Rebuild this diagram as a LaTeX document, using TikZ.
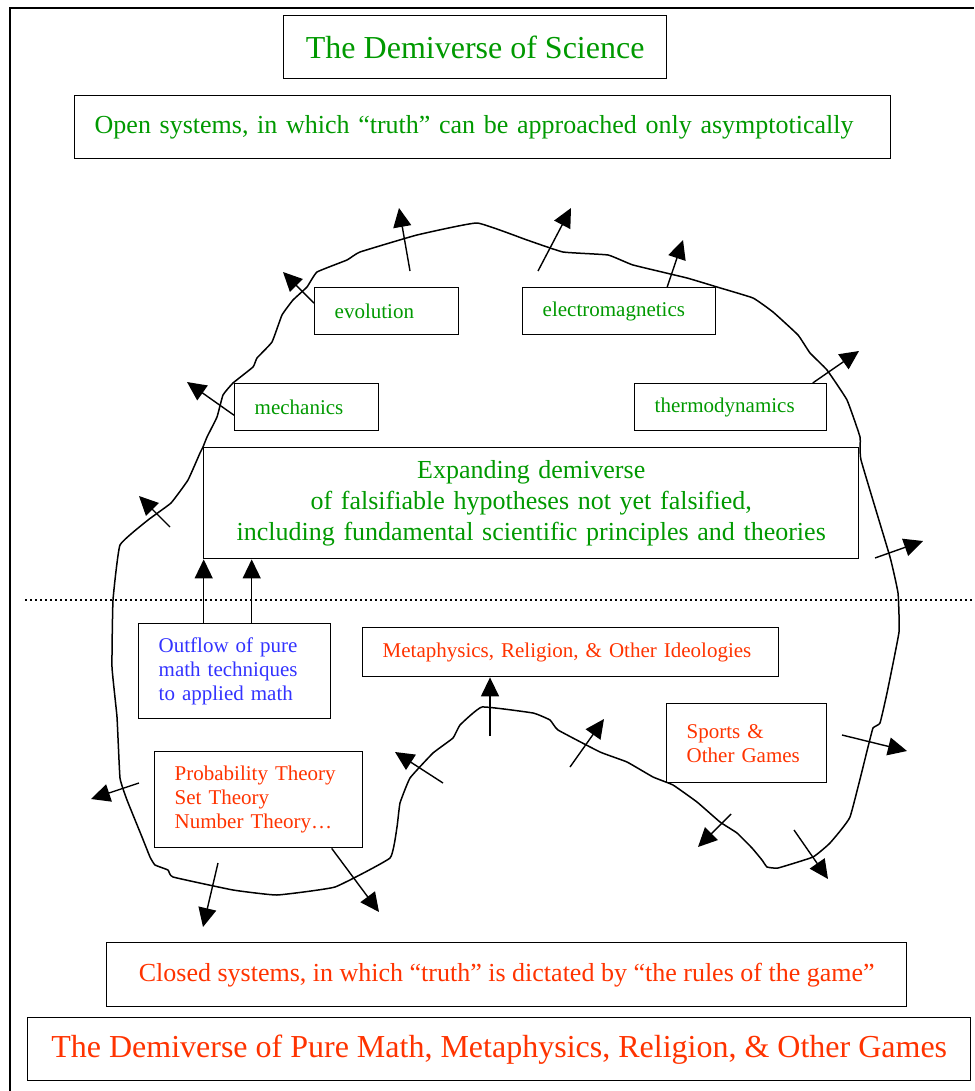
\documentclass[tikz,border=0pt]{standalone}
\usepackage{fontspec}
\setmainfont{Liberation Serif}
\usetikzlibrary{arrows.meta}
\definecolor{scigreen}{RGB}{0,153,0}
\definecolor{gamered}{RGB}{255,51,0}
\definecolor{mathblue}{RGB}{51,51,255}
\tikzset{box/.style={draw,line width=1.4pt,inner xsep=20pt,inner ysep=0pt,align=left,anchor=north west}}
\tikzset{sci/.style={text=scigreen}}
\tikzset{game/.style={text=gamered}}
\tikzset{purem/.style={text=mathblue}}
\tikzset{small/.style={font=\fontsize{21}{24}\selectfont}}
\tikzset{mid/.style={font=\fontsize{26}{31}\selectfont}}
\tikzset{big/.style={font=\fontsize{32}{38}\selectfont}}
\tikzset{edge/.style={-{Triangle[length=19pt,width=18pt]},line width=1.4pt}}
\tikzset{rim/.style={line width=1.5pt,line join=round}}

\begin{document}
\begin{tikzpicture}[x=1pt,y=-1pt]
\useasboundingbox (0,0) rectangle (974,1091);
\draw [line width=2.5pt] (10,1091) -- (10,8) -- (974,8);
\node [box,big,sci,minimum width=383,minimum height=63,align=center] (title) at (283,15) {The Demiverse of Science};
\node [box,mid,sci,text width=776,minimum height=63] (open) at (74,95) {Open systems, in which “truth” can be approached only asymptotically};
\node [box,small,sci,text width=104,minimum height=47] (evo) at (314,287) {evolution};
\node [box,small,sci,text width=153,minimum height=47] (em) at (522,287) {electromagnetics};
\node [box,small,sci,text width=104,minimum height=47] (mech) at (234,383) {mechanics};
\node [box,small,sci,text width=152,minimum height=47] (thermo) at (634,383) {thermodynamics};
\node [box,mid,sci,text width=615,minimum height=111,align=center] (expand) at (203,447) {Expanding demiverse\\of falsifiable hypotheses not yet falsified,\\including fundamental scientific principles and theories};
\node [box,small,purem,text width=152,minimum height=95] (outflow) at (138,623) {Outflow of pure\\math techniques\\to applied math};
\node [box,small,game,text width=376,minimum height=49] (meta) at (362,627) {Metaphysics, Religion, \& Other Ideologies};
\node [box,small,game,text width=168,minimum height=96] (prob) at (154,751) {Probability Theory\\Set Theory\\Number Theory…};
\node [box,small,game,text width=120,minimum height=79] (sports) at (666,703) {Sports \&\\Other Games};
\node [box,mid,game,minimum width=800,minimum height=64,align=center] (closed) at (106,942) {Closed systems, in which “truth” is dictated by “the rules of the game”};
\node [box,big,game,minimum width=943,minimum height=63,align=center] (pure) at (27,1017) {The Demiverse of Pure Math, Metaphysics, Religion, \& Other Games};
\draw [line width=1.5pt,dash pattern=on 2pt off 3pt] (25,600) -- (974,600);
\draw [rim] plot [smooth cycle,tension=0.2] coordinates {(203,447) (207,437) (217,417) (223,395) (233,383) (253,367) (257,358) (272,342) (282,315) (293,300) (307,287) (317,272) (347,260) (360,252) (417,235) (477,223) (527,240) (563,252) (608,255) (633,265) (687,278) (717,287) (753,298) (773,312) (798,335) (810,353) (827,370) (847,400) (860,437) (861,460) (890,557) (898,593) (899,632) (887,693) (880,723) (873,728) (868,747) (850,817) (830,843) (813,857) (778,868) (767,867) (762,860) (752,848) (737,833) (720,822) (697,802) (673,785) (653,777) (627,762) (600,752) (558,730) (550,720) (533,713) (482,707) (460,725) (453,738) (433,753) (410,778) (400,803) (397,827) (390,858) (335,887) (277,895) (233,890) (173,877) (168,870) (155,865) (150,857) (142,837) (127,800) (120,778) (117,717) (112,667) (113,600) (120,545) (148,520) (171,503) (188,480) (200,453)};
\coordinate (a1) at (410,271);
\coordinate (b1) at (399,208);
\coordinate (a2) at (538,271);
\coordinate (b2) at (571,208);
\coordinate (b3) at (683,240);
\coordinate (b4) at (859,351);
\coordinate (b5) at (283,272);
\coordinate (b6) at (187,382);
\coordinate (a7) at (170,527);
\coordinate (b7) at (139,496);
\coordinate (a8) at (875,558);
\coordinate (b8) at (923,541);
\coordinate (a9) at (490,736);
\coordinate (a10) at (443,783);
\coordinate (b10) at (395,752);
\coordinate (a11) at (570,767);
\coordinate (b11) at (604,719);
\coordinate (a12) at (842,735);
\coordinate (b12) at (907,751);
\coordinate (a13) at (731,814);
\coordinate (b13) at (698,847);
\coordinate (a14) at (794,830);
\coordinate (b14) at (828,879);
\coordinate (a15) at (139,783);
\coordinate (b15) at (91,799);
\coordinate (a16) at (218,863);
\coordinate (b16) at (203,927);
\coordinate (b17) at (379,912);
\draw [edge] (a1) -- (b1);
\draw [edge] (a2) -- (b2);
\draw [edge] ([xshift=48pt]em.north) -- (b3);
\draw [edge] ([xshift=82pt]thermo.north) -- (b4);
\draw [edge] ([yshift=8pt]evo.west) -- (b5);
\draw [edge] ([yshift=-8pt]mech.west) -- (b6);
\draw [edge] (a7) -- (b7);
\draw [edge] (a8) -- (b8);
\draw [edge] ([xshift=-31pt]outflow.north) -- ([xshift=-31pt]outflow.north |- expand.south);
\draw [edge] ([xshift=17pt]outflow.north) -- ([xshift=17pt]outflow.north |- expand.south);
\draw [edge] (a9) -- (a9 |- meta.south);
\draw [edge] (a10) -- (b10);
\draw [edge] (a11) -- (b11);
\draw [edge] (a12) -- (b12);
\draw [edge] (a13) -- (b13);
\draw [edge] (a14) -- (b14);
\draw [edge] (a15) -- (b15);
\draw [edge] (a16) -- (b16);
\draw [edge] ([xshift=73pt]prob.south) -- (b17);
\end{tikzpicture}
\end{document}
